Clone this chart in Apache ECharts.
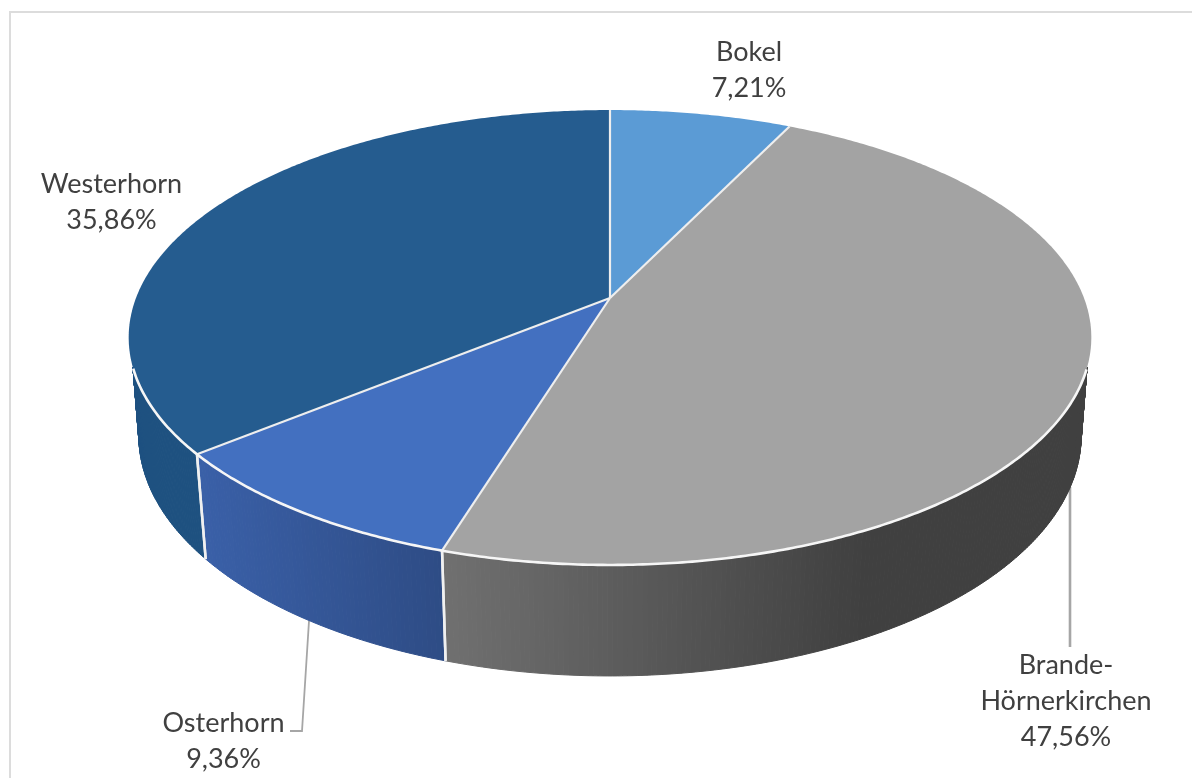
<!DOCTYPE html>
<html><head><meta charset="utf-8">
<script src="https://cdn.jsdelivr.net/npm/echarts@6/dist/echarts.min.js"></script>
<style>html,body{margin:0;padding:0;background:#fff}#c{width:1192px;height:778px}</style>
</head><body><div id="c"></div>
<script>
var names = ['Bokel', 'Brande-\nHörnerkirchen', 'Osterhorn', 'Westerhorn'];
var shares = [7.21, 47.56, 9.36, 35.86];
var topColors = ['#5b9bd5', '#a3a3a3', '#4370c0', '#255c8f'];
var sideFrom = ['#4a84b8', '#707070', '#3a60a8', '#1e5180'];
var sideTo = ['#4a84b8', '#404040', '#2e4c85', '#1e5180'];

// perspective projection of the pie's top and bottom discs
var CX = 610, K = 0.1736;
var TOP = {a: 474, b: 220.6, y: 298};
var BOT = {a: 464, b: 233, y: 394};
var RIM_V = 0.3, SIDE_V = 0.14;
function project(d, theta) {
  var u = Math.sin(theta), v = -Math.cos(theta), w = 1 - K * v;
  return [CX + d.a * u / w, d.y + d.b * v / w];
}
// the side wall leaves the top disc only where the rim begins
function rimAngle(a) {
  if (-Math.cos(a) >= RIM_V) return a;
  var c = Math.acos(-RIM_V);
  return a < Math.PI ? c : 2 * Math.PI - c;
}
var total = shares.reduce(function (s, x) { return s + x; }, 0);
function bounds(i) {
  var s = 0;
  for (var j = 0; j < i; j++) s += shares[j];
  return [s / total * 2 * Math.PI, (s + shares[i]) / total * 2 * Math.PI];
}
var STEP = Math.PI / 360;
function arc(d, a0, a1) {
  var n = Math.max(2, Math.ceil((a1 - a0) / STEP)), pts = [];
  for (var i = 0; i <= n; i++) pts.push(project(d, a0 + (a1 - a0) * i / n));
  return pts;
}
var labelPos = [[749, 70], [1066, 701.5], [223.5, 741.5], [111.5, 202]];
var labelStyle = {fontFamily: 'Lato', fontSize: 27, lineHeight: 36, fill: '#404040', align: 'center', verticalAlign: 'middle'};
function pct(x) { return x.toFixed(2).replace('.', ',') + '%'; }

var data = shares.map(function (v, i) { return {name: names[i], value: v}; });

function renderSide(params) {
  var i = params.dataIndex, b = bounds(i), children = [];
  var strips = [], n = Math.ceil((b[1] - b[0]) / STEP);
  for (var k = 0; k < n; k++) {
    var a0 = b[0] + (b[1] - b[0]) * k / n, a1 = b[0] + (b[1] - b[0]) * (k + 1) / n;
    if (-Math.cos((a0 + a1) / 2) < SIDE_V) continue;
    strips.push([a0, a1]);
  }
  if (!strips.length) return {type: 'group', children: []};
  var gx0 = i === 1 ? 446 : project(BOT, b[0])[0];
  var gx1 = i === 1 ? 860 : project(BOT, b[1])[0];
  if (gx0 > gx1) { var t0 = gx0; gx0 = gx1; gx1 = t0; }
  strips.forEach(function (s) {
    var p = [project(TOP, rimAngle(s[0])), project(TOP, rimAngle(s[1])), project(BOT, s[1]), project(BOT, s[0])];
    var t = Math.min(1, Math.max(0, ((p[2][0] + p[3][0]) / 2 - gx0) / (gx1 - gx0 || 1)));
    var col = echarts.color.lerp(t, [sideFrom[i], sideTo[i]]);
    children.push({type: 'polygon', shape: {points: p}, style: {fill: col, stroke: col, lineWidth: 1}});
  });
  // white seams between the visible side faces
  [b[0], b[1]].forEach(function (a) {
    if (-Math.cos(a) > 0.2) {
      var t = project(TOP, a), d = project(BOT, a);
      children.push({type: 'line', shape: {x1: t[0], y1: t[1], x2: d[0], y2: d[1]},
        style: {stroke: '#f0f0f0', lineWidth: 2.5}, z2: 5});
    }
  });
  return {type: 'group', children: children};
}
function renderTop(params) {
  var i = params.dataIndex, b = bounds(i);
  var pts = [[CX, TOP.y]].concat(arc(TOP, b[0], b[1]));
  var children = [{type: 'polygon', shape: {points: pts},
    style: {fill: topColors[i], stroke: null}, z2: 1}];
  // radial edge at the start of each slice
  var e = project(TOP, b[0]);
  children.push({type: 'line', shape: {x1: CX, y1: TOP.y, x2: e[0], y2: e[1]},
    style: {stroke: '#eeeeee', lineWidth: 2.2}, z2: 3});
  // light rim along the front of the top face
  var rim = [], rn = Math.ceil((b[1] - b[0]) / STEP);
  for (var k = 0; k <= rn; k++) {
    var a = b[0] + (b[1] - b[0]) * k / rn;
    if (-Math.cos(a) > RIM_V) rim.push(project(TOP, a));
  }
  if (rim.length > 1) {
    children.push({type: 'polyline', shape: {points: rim},
      style: {stroke: '#f6f6f6', lineWidth: 2.6, fill: 'none'}, z2: 4});
  }
  return {type: 'group', children: children};
}
function renderLabel(params) {
  var i = params.dataIndex;
  return {type: 'text', x: labelPos[i][0], y: labelPos[i][1],
    style: Object.assign({text: names[i] + '\n' + pct(shares[i])}, labelStyle)};
}

var chart = echarts.init(document.getElementById('c'), null, {renderer: 'canvas'});
chart.setOption({
  animation: false,
  backgroundColor: '#ffffff',
  graphic: [
    {type: 'polyline', shape: {points: [[10, 778], [10, 12], [1192, 12]]},
      style: {stroke: '#dcdcdc', lineWidth: 2, fill: 'none'}, z: 0},
    {type: 'polyline', shape: {points: [[1070, 487], [1070, 647]]},
      style: {stroke: '#a6a6a6', lineWidth: 2.6, fill: 'none'}, z: 1},
    {type: 'polyline', shape: {points: [[309, 621], [302, 731], [290, 731]]},
      style: {stroke: '#a6a6a6', lineWidth: 1.8, fill: 'none'}, z: 1}
  ],
  series: [
    {type: 'custom', coordinateSystem: 'none', z: 2, silent: true, data: data, renderItem: renderSide},
    {type: 'custom', coordinateSystem: 'none', z: 3, silent: true, data: data, renderItem: renderTop},
    {type: 'custom', coordinateSystem: 'none', z: 4, silent: true, data: data, renderItem: renderLabel}
  ]
});
</script></body></html>
